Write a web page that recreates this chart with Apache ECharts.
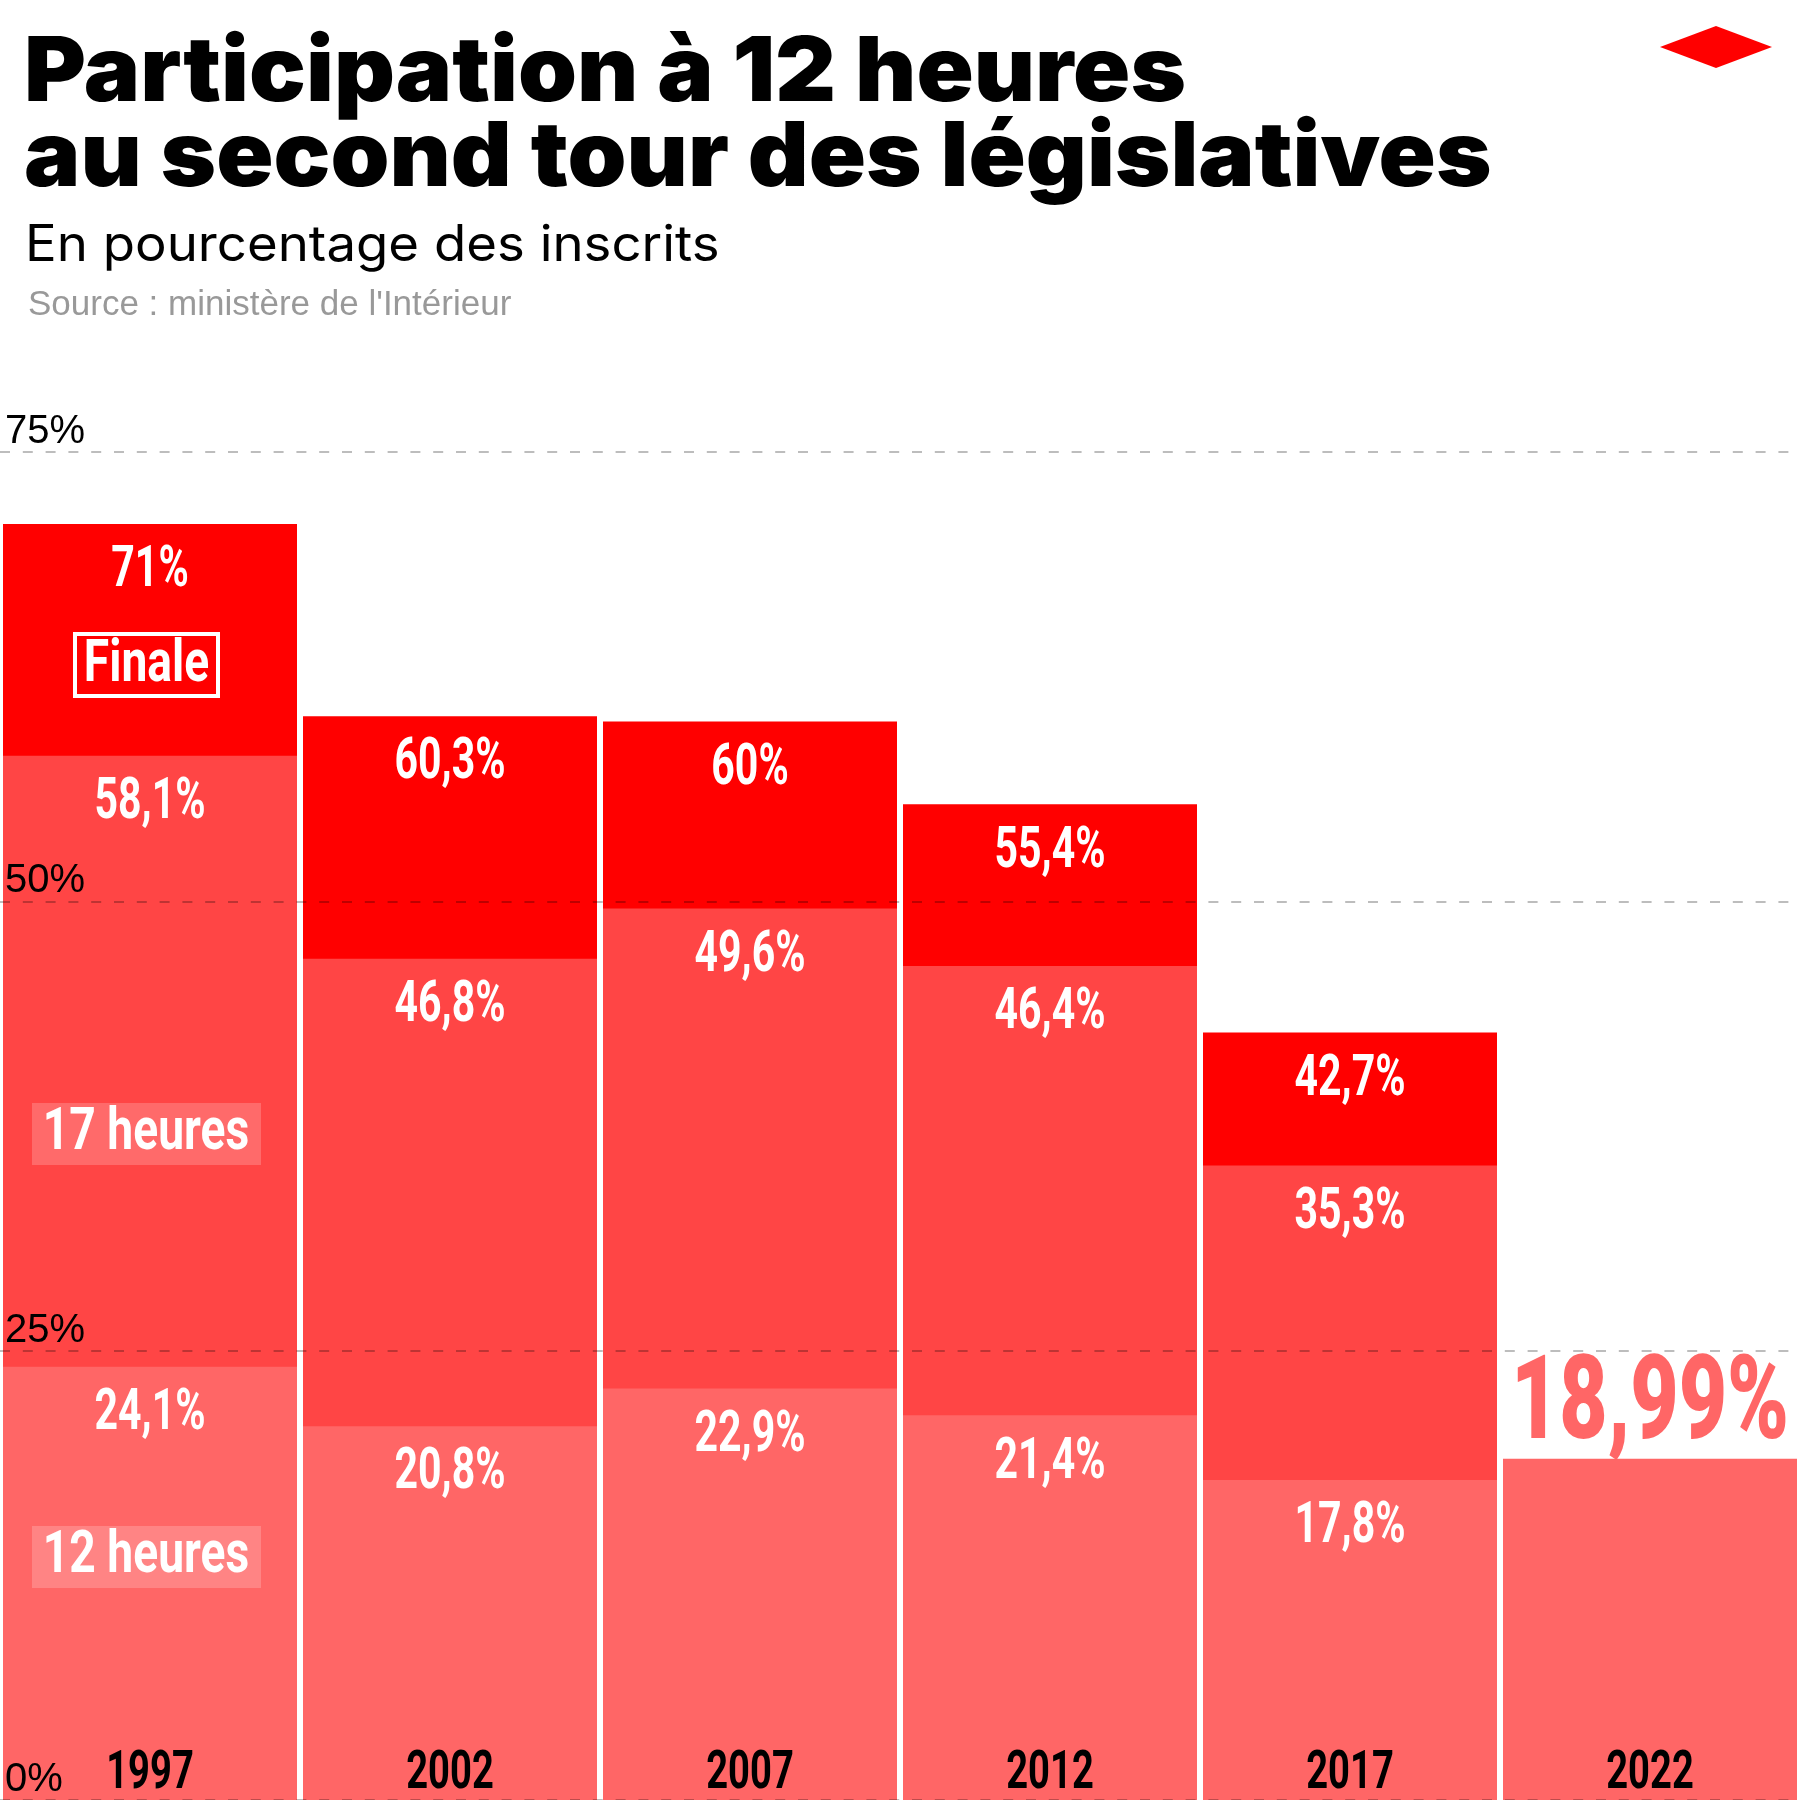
<!DOCTYPE html>
<html><head><meta charset="utf-8">
<script src="https://cdn.jsdelivr.net/npm/echarts@6/dist/echarts.min.js"></script>
<style>html,body{margin:0;padding:0;background:#fff}#c{width:1800px;height:1800px}</style>
</head><body><div id="c"></div>
<script>
// ---- data ----
const years = ['1997', '2002', '2007', '2012', '2017', '2022'];
const finale = [71, 60.3, 60, 55.4, 42.7, null];
const h17 = [58.1, 46.8, 49.6, 46.4, 35.3, null];
const h12 = [24.1, 20.8, 22.9, 21.4, 17.8, 18.99];
const yTicks = [0, 25, 50, 75];
const titleLine1 = 'Participation à 12 heures';
const titleLine2 = 'au second tour des législatives';
const subtitleText = 'En pourcentage des inscrits';
const sourceText = "Source : ministère de l'Intérieur";
const legendFinale = 'Finale';
const legend17 = '17 heures';
const legend12 = '12 heures';

// ---- styles ----
const C_FIN = '#FF0000', C_17 = '#FF4545', C_12 = '#FF6666';
const COND = "Roboto, 'Liberation Sans', sans-serif";
const SQ = 0.72; // horizontal squeeze to imitate condensed face
const fmt = v => String(v).replace('.', ',') + '%';
const last = years.length - 1;

function labelSeries(values, opt) {
  const data = [];
  values.forEach((v, i) => { if (v != null && opt.filter(i)) data.push([i, v]); });
  return {
    type: 'custom', z: 10, silent: true, encode: { x: 0, y: 1 }, data,
    renderItem: (params, api) => {
      const i = api.value(0), v = api.value(1);
      const p = api.coord([i, opt.atZero ? 0 : v]);
      return {
        type: 'text', x: p[0], y: p[1] + opt.dy, scaleX: opt.sx || SQ,
        style: { text: opt.text ? opt.text(i, v) : fmt(v), fill: opt.color || '#fff',
                 font: opt.font, align: 'center', verticalAlign: 'middle' }
      };
    }
  };
}

const chart = echarts.init(document.getElementById('c'), null, { renderer: 'canvas' });
chart.setOption({
  animation: false,
  backgroundColor: '#fff',
  grid: { left: 0, right: 0, top: 452, bottom: 0, containLabel: false },
  xAxis: {
    type: 'category', data: years, z: 5,
    axisLine: { show: false }, axisTick: { show: false }, axisLabel: { show: false }
  },
  yAxis: {
    type: 'value', min: yTicks[0], max: yTicks[yTicks.length - 1], interval: 25, z: 5,
    axisLine: { show: false }, axisTick: { show: false },
    splitLine: { show: true, lineStyle: { color: 'rgba(0,0,0,0.26)', width: 2, type: [10, 12.8] } },
    axisLabel: { inside: true, margin: 5, verticalAlign: 'bottom', padding: 0,
      color: '#000', fontFamily: "'Liberation Sans', Arial, sans-serif", fontSize: 40,
      formatter: v => v + '%' }
  },
  series: [
    { type: 'bar', name: 'Finale', data: finale, itemStyle: { color: C_FIN },
      barGap: '-100%', barCategoryGap: '2%' },
    { type: 'bar', name: '17 heures', data: h17, itemStyle: { color: C_17 },
      barGap: '-100%', barCategoryGap: '2%' },
    { type: 'bar', name: '12 heures', data: h12, itemStyle: { color: C_12 },
      barGap: '-100%', barCategoryGap: '2%' },
    labelSeries(finale, { filter: () => true, dy: 48, font: 'bold 57px ' + COND }),
    labelSeries(h17, { filter: () => true, dy: 48, font: 'bold 57px ' + COND }),
    labelSeries(h12, { filter: i => i !== last, dy: 48, font: 'bold 57px ' + COND }),
    labelSeries(h12, { filter: i => i === last, dy: -50, sx: 0.72, color: C_12, font: '900 116px ' + COND }),
    labelSeries(years.map(() => 0), { filter: () => true, atZero: true, dy: -25, color: '#000',
      font: 'bold 53px ' + COND, text: i => years[i] })
  ],
  graphic: [
    { type: 'text', z: 100, x: 24, y: 74, scaleX: 1.05,
      style: { text: titleLine1, fill: '#000', font: '900 90px Inter', align: 'left', verticalAlign: 'middle' } },
    { type: 'text', z: 100, x: 24, y: 159, scaleX: 1.05,
      style: { text: titleLine2, fill: '#000', font: '900 90px Inter', align: 'left', verticalAlign: 'middle' } },
    { type: 'text', z: 100, x: 25, y: 246, scaleX: 1.055,
      style: { text: subtitleText, fill: '#000', font: '400 50px Inter', align: 'left', verticalAlign: 'middle' } },
    { type: 'text', z: 100, x: 28, y: 305,
      style: { text: sourceText, fill: '#999', font: "400 35px 'Liberation Sans', Arial, sans-serif", align: 'left', verticalAlign: 'middle' } },
    { type: 'polygon', z: 100, shape: { points: [[1660, 47], [1716, 26], [1772, 47], [1716, 68]] }, style: { fill: C_FIN } },
    { type: 'rect', z: 100, shape: { x: 75, y: 634, width: 143, height: 62 }, style: { fill: 'none', stroke: '#fff', lineWidth: 4 } },
    { type: 'text', z: 101, x: 146.5, y: 666, scaleX: 0.77, style: { text: legendFinale, fill: '#fff', align: 'center', verticalAlign: 'middle', font: 'bold 60px ' + COND } },
    { type: 'rect', z: 100, shape: { x: 32, y: 1103, width: 229, height: 62 }, style: { fill: 'rgba(255,255,255,0.2)' } },
    { type: 'text', z: 101, x: 146, y: 1134, scaleX: 0.77, style: { text: legend17, fill: '#fff', align: 'center', verticalAlign: 'middle', font: 'bold 60px ' + COND } },
    { type: 'rect', z: 100, shape: { x: 32, y: 1526, width: 229, height: 62 }, style: { fill: 'rgba(255,255,255,0.2)' } },
    { type: 'text', z: 101, x: 146, y: 1557, scaleX: 0.77, style: { text: legend12, fill: '#fff', align: 'center', verticalAlign: 'middle', font: 'bold 60px ' + COND } }
  ]
});
</script>
</body></html>
